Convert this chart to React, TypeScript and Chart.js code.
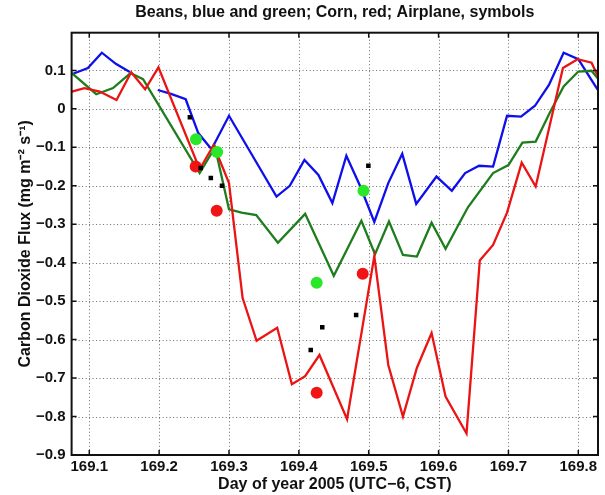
import React, { useEffect, useRef } from 'react';
import { Chart, registerables } from 'chart.js';

Chart.register(...registerables);

// ---- data ----
const blueTimes = [169.075, 169.098, 169.118, 169.138, 169.158, 169.178, 169.198, 169.217, 169.238, 169.256, 169.275, 169.300, 169.368, 169.387, 169.408, 169.428, 169.448, 169.468, 169.488, 169.508, 169.528, 169.548, 169.568, 169.597, 169.619, 169.638, 169.658, 169.678, 169.698, 169.718, 169.738, 169.758, 169.779, 169.800, 169.819, 169.840];
const blueFlux = [0.090, 0.106, 0.146, 0.117, 0.096, null, 0.049, 0.039, 0.025, -0.063, -0.105, -0.018, -0.228, -0.200, -0.133, -0.172, -0.245, -0.122, -0.202, -0.294, -0.193, -0.117, -0.247, -0.176, -0.213, -0.167, -0.148, -0.150, -0.018, -0.020, 0.008, 0.062, 0.146, 0.129, 0.075, 0.015];

const greenTimes = [169.075, 169.110, 169.134, 169.159, 169.177, 169.258, 169.280, 169.300, 169.318, 169.339, 169.370, 169.409, 169.450, 169.4895, 169.509, 169.529, 169.549, 169.569, 169.590, 169.610, 169.642, 169.678, 169.700, 169.720, 169.739, 169.759, 169.779, 169.800, 169.819, 169.840];
const greenFlux = [0.093, 0.038, 0.054, 0.093, 0.077, -0.167, -0.100, -0.261, -0.270, -0.276, -0.348, -0.273, -0.434, -0.291, -0.378, -0.293, -0.380, -0.384, -0.296, -0.364, -0.256, -0.167, -0.146, -0.088, -0.085, -0.011, 0.058, 0.097, 0.099, 0.052];

const redTimes = [169.075, 169.093, 169.115, 169.139, 169.160, 169.180, 169.199, 169.258, 169.278, 169.300, 169.3195, 169.3395, 169.369, 169.390, 169.409, 169.4295, 169.469, 169.508, 169.528, 169.549, 169.569, 169.590, 169.610, 169.640, 169.659, 169.678, 169.698, 169.719, 169.739, 169.778, 169.799, 169.819, 169.840];
const redFlux = [0.045, 0.054, 0.045, 0.023, 0.095, 0.051, 0.108, -0.157, -0.094, -0.193, -0.492, -0.603, -0.569, -0.716, -0.695, -0.640, -0.807, -0.383, -0.666, -0.800, -0.673, -0.583, -0.748, -0.844, -0.394, -0.354, -0.270, -0.140, -0.202, 0.106, 0.129, 0.120, 0.038];

const planeSquareTimes = [169.244, 169.2595, 169.274, 169.290, 169.417, 169.4335, 169.482, 169.4995];
const planeSquareFlux = [-0.022, -0.154, -0.180, -0.200, -0.627, -0.568, -0.536, -0.148];

const planeGreenTimes = [169.2527, 169.283, 169.4255, 169.4925];
const planeGreenFlux = [-0.079, -0.112, -0.452, -0.213];

const planeRedTimes = [169.2523, 169.2824, 169.4255, 169.4914];
const planeRedFlux = [-0.150, -0.265, -0.738, -0.429];

const xTicks = [169.1, 169.2, 169.3, 169.4, 169.5, 169.6, 169.7, 169.8];
const yTicks = [-0.9, -0.8, -0.7, -0.6, -0.5, -0.4, -0.3, -0.2, -0.1, 0, 0.1];

const X_MIN = 169.0747;
const X_MAX = 169.8282;
const Y_MIN = -0.9;
const Y_MAX = 0.198;

const TITLE = 'Beans, blue and green; Corn, red; Airplane, symbols';
const X_TITLE = 'Day of year 2005 (UTC\u22126, CST)';
const Y_TITLE = 'Carbon Dioxide Flux (mg m\u207B\u00B2 s\u207B\u00B9)';

const FONT = '"Liberation Sans", Arial, Helvetica, sans-serif';

const pts = (xs: number[], ys: (number | null)[]) => xs.map((x, i) => ({ x, y: ys[i] }));

const framePlugin = {
  id: 'matlabFrame',
  beforeDatasetsDraw(chart: any) {
    const { ctx, chartArea: a, scales } = chart;
    const x = scales.x;
    const y = scales.y;
    ctx.save();
    ctx.strokeStyle = 'rgba(60,60,60,0.75)';
    ctx.lineWidth = 1;
    ctx.setLineDash([1, 2.5]);
    xTicks.forEach((v) => {
      const px = Math.round(x.getPixelForValue(v)) + 0.5;
      ctx.beginPath();
      ctx.moveTo(px, a.top);
      ctx.lineTo(px, a.bottom);
      ctx.stroke();
    });
    yTicks.forEach((v) => {
      const py = Math.round(y.getPixelForValue(v)) + 0.5;
      if (py > a.bottom - 2) return;
      ctx.beginPath();
      ctx.moveTo(a.left, py);
      ctx.lineTo(a.right, py);
      ctx.stroke();
    });
    ctx.restore();
  },
  afterDatasetsDraw(chart: any) {
    const { ctx, chartArea: a, scales } = chart;
    const x = scales.x;
    const y = scales.y;
    ctx.save();
    ctx.strokeStyle = '#111';
    ctx.lineWidth = 2;
    ctx.setLineDash([]);
    ctx.strokeRect(a.left, a.top, a.right - a.left, a.bottom - a.top);
    const tl = 5;
    ctx.lineWidth = 1.5;
    xTicks.forEach((v) => {
      const px = x.getPixelForValue(v);
      ctx.beginPath();
      ctx.moveTo(px, a.bottom);
      ctx.lineTo(px, a.bottom - tl);
      ctx.moveTo(px, a.top);
      ctx.lineTo(px, a.top + tl);
      ctx.stroke();
    });
    yTicks.forEach((v) => {
      const py = y.getPixelForValue(v);
      ctx.beginPath();
      ctx.moveTo(a.left, py);
      ctx.lineTo(a.left + tl, py);
      ctx.moveTo(a.right, py);
      ctx.lineTo(a.right - tl, py);
      ctx.stroke();
    });
    ctx.fillStyle = '#111';
    ctx.font = `bold 16px ${FONT}`;
    ctx.textAlign = 'center';
    ctx.textBaseline = 'middle';
    ctx.fillText(TITLE, (a.left + a.right) / 2, 13);
    ctx.restore();
  },
};

export default function App() {
  const ref = useRef<HTMLCanvasElement | null>(null);

  useEffect(() => {
    const canvas = ref.current;
    if (!canvas) return;
    const tickFont = { family: FONT, size: 15, weight: 'bold' as const };
    const titleFont = { family: FONT, size: 16, weight: 'bold' as const };
    const chart = new Chart(canvas, {
      type: 'scatter',
      data: {
        datasets: [
          {
            label: 'Airplane squares',
            data: pts(planeSquareTimes, planeSquareFlux),
            pointStyle: 'rect',
            pointRadius: 3.2,
            backgroundColor: '#000',
            borderColor: '#000',
            borderWidth: 0,
            showLine: false,
          },
          {
            label: 'Airplane green',
            data: pts(planeGreenTimes, planeGreenFlux),
            pointStyle: 'circle',
            pointRadius: 6,
            backgroundColor: 'rgb(40,232,40)',
            borderColor: 'rgb(40,232,40)',
            borderWidth: 0,
            showLine: false,
          },
          {
            label: 'Airplane red',
            data: pts(planeRedTimes, planeRedFlux),
            pointStyle: 'circle',
            pointRadius: 6,
            backgroundColor: 'rgb(240,20,20)',
            borderColor: 'rgb(240,20,20)',
            borderWidth: 0,
            showLine: false,
          },
          {
            label: 'Corn',
            data: pts(redTimes, redFlux),
            showLine: true,
            borderColor: 'rgb(235,20,20)',
            borderWidth: 2.3,
            pointRadius: 0,
            tension: 0,
          },
          {
            label: 'Beans green',
            data: pts(greenTimes, greenFlux),
            showLine: true,
            borderColor: 'rgb(30,125,30)',
            borderWidth: 2.3,
            pointRadius: 0,
            tension: 0,
          },
          {
            label: 'Beans blue',
            data: pts(blueTimes, blueFlux),
            showLine: true,
            spanGaps: false,
            borderColor: 'rgb(15,15,235)',
            borderWidth: 2.3,
            pointRadius: 0,
            tension: 0,
          },
        ],
      },
      options: {
        animation: false,
        responsive: false,
        maintainAspectRatio: false,
        layout: { padding: { top: 32.7, right: 7, left: 0, bottom: 0 } },
        plugins: {
          legend: { display: false },
          tooltip: { enabled: false },
          title: { display: false },
        },
        scales: {
          x: {
            type: 'linear',
            min: X_MIN,
            max: X_MAX,
            grid: { display: false, drawTicks: false },
            border: { display: false },
            afterBuildTicks: (s: any) => {
              s.ticks = xTicks.map((v) => ({ value: v }));
            },
            afterFit: (s: any) => {
              s.height = 40;
            },
            ticks: {
              autoSkip: false,
              maxRotation: 0,
              padding: 3,
              color: '#111',
              font: tickFont,
              callback: (v: any) => Number(v).toFixed(1),
            },
            title: {
              display: true,
              text: X_TITLE,
              color: '#111',
              font: titleFont,
              padding: { top: 0, bottom: 0.5 },
            },
          },
          y: {
            type: 'linear',
            min: Y_MIN,
            max: Y_MAX,
            grid: { display: false, drawTicks: false },
            border: { display: false },
            afterBuildTicks: (s: any) => {
              s.ticks = yTicks.map((v) => ({ value: v }));
            },
            afterFit: (s: any) => {
              s.width = 71.6;
            },
            ticks: {
              autoSkip: false,
              padding: 6,
              color: '#111',
              font: tickFont,
              callback: (v: any) => {
                const n = Number(v);
                if (Math.abs(n) < 1e-9) return '0';
                return n.toFixed(1).replace('-', '\u2212');
              },
            },
            title: {
              display: true,
              text: Y_TITLE,
              color: '#111',
              font: titleFont,
              padding: { top: 16.4, bottom: 0 },
            },
          },
        },
      },
      plugins: [framePlugin],
    } as any);
    return () => chart.destroy();
  }, []);

  return (
    <div style={{ position: 'absolute', left: 0, top: 0, width: 605, height: 495, background: '#fff' }}>
      <canvas ref={ref} width={605} height={495} />
    </div>
  );
}
